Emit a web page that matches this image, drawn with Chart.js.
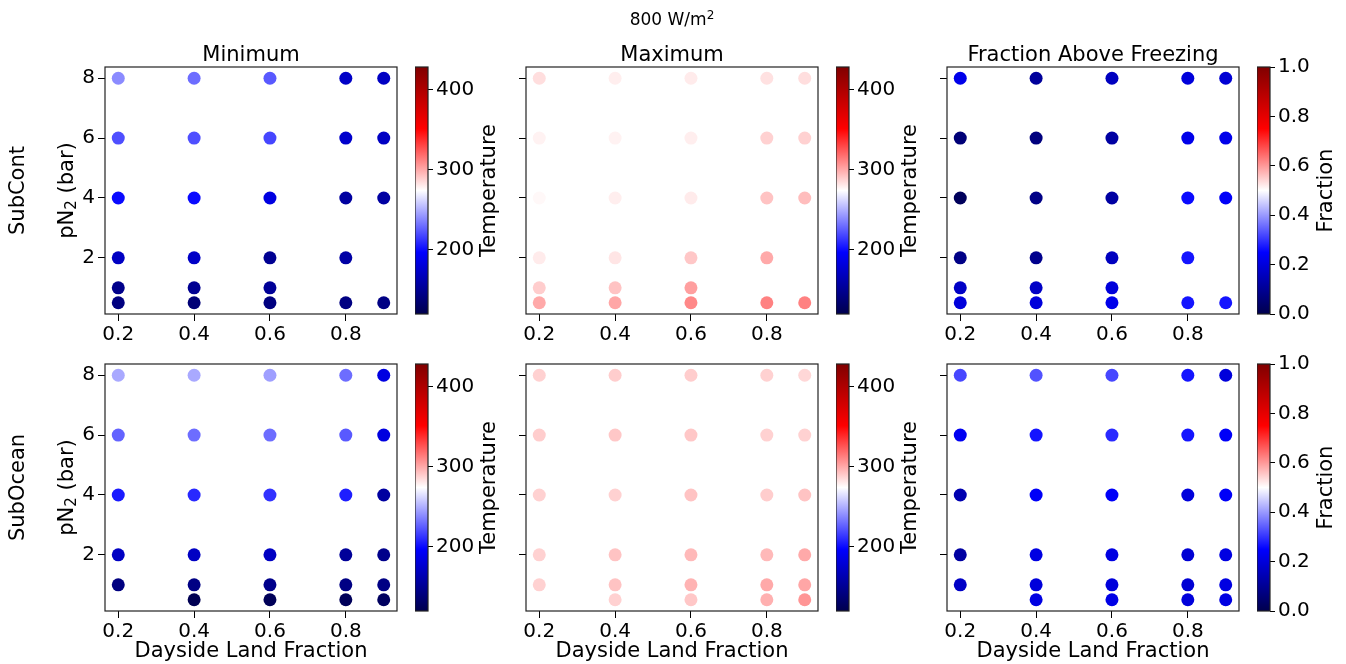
<!DOCTYPE html>
<html>
<head>
<meta charset="utf-8">
<script src="https://cdn.jsdelivr.net/npm/chart.js@4.4.1/dist/chart.umd.min.js"></script>
<style>
  html, body { margin: 0; padding: 0; background: #fff; }
  #fig { position: relative; width: 1346px; height: 664px; overflow: hidden; }
  #fig canvas { position: absolute; }
</style>
</head>
<body>
<div id="fig"></div>
<script>
const landFraction = [0.2, 0.4, 0.6, 0.8, 0.9];
const pN2 = [8, 6, 4, 2, 1, 0.5];
const xTicks = [0.2, 0.4, 0.6, 0.8];
const yTicks = [2, 4, 6, 8];
const tempTicks = [200, 300, 400];
const fracTicks = [0, 0.2, 0.4, 0.6, 0.8, 1.0];
const tempRange = [120, 428];
const fracRange = [0, 1];

// rows follow pN2, columns follow landFraction, null = no run
const subContMin = [
    [239, 230, 224, 173, 171],
    [221, 221, 218, 175, 171],
    [200, 200, 184, 156, 157],
    [171, 173, 150, 158, null],
    [147, 150, 152, null, null],
    [142, 138, 142, 143, 144]
];
const subContMax = [
    [284, 279, 280, 283, 284],
    [278, 278, 279, 288, 288],
    [276, 279, 280, 292, 294],
    [280, 282, 291, 300, null],
    [289, 292, 303, null, null],
    [300, 301, 310, 312, 312]
];
const subContFrac = [
    [0.22, 0.11, 0.16, 0.20, 0.19],
    [0.06, 0.07, 0.12, 0.22, 0.22],
    [0.02, 0.08, 0.12, 0.26, 0.24],
    [0.08, 0.09, 0.16, 0.27, null],
    [0.17, 0.17, 0.20, null, null],
    [0.20, 0.20, 0.22, 0.27, 0.27]
];
const subOceanMin = [
    [248, 248, 245, 230, 184],
    [227, 230, 230, 224, 183],
    [205, 209, 212, 206, 156],
    [171, 171, 171, 153, 147],
    [142, 144, 147, 144, 144],
    [null, 123, 125, 126, 128]
];
const subOceanMax = [
    [288, 289, 289, 288, 286],
    [289, 291, 291, 288, 288],
    [288, 288, 292, 289, 292],
    [288, 292, 295, 295, 300],
    [288, 292, 297, 300, 301],
    [null, 288, 291, 298, 306]
];
const subOceanFrac = [
    [0.32, 0.33, 0.32, 0.27, 0.20],
    [0.23, 0.27, 0.29, 0.27, 0.24],
    [0.14, 0.24, 0.24, 0.20, 0.24],
    [0.12, 0.21, 0.21, 0.19, 0.21],
    [0.17, 0.20, 0.20, 0.19, 0.21],
    [null, 0.21, 0.215, 0.20, 0.21]
];

const colTitles = ['Minimum', 'Maximum', 'Fraction Above Freezing'];
const rowNames = ['SubCont', 'SubOcean'];

// layout of the figure (px)
const colLeft = [105, 526, 947];
const rowTop = [67, 364];
const plotW = 292, plotH = 247;
const cbLeft = [415, 836, 1257];
const cbW = 13;

Chart.defaults.font.family = "'DejaVu Sans', sans-serif";
Chart.defaults.color = '#000';

// matplotlib 'seismic'
const seismicStops = [
    [0, 0, 0, 76.5],
    [0.25, 0, 0, 255],
    [0.5, 255, 255, 255],
    [0.75, 255, 0, 0],
    [1, 127.5, 0, 0]
];
function seismic(t) {
    t = Math.min(1, Math.max(0, t));
    for (let i = 1; i < seismicStops.length; i++) {
        const a = seismicStops[i - 1], b = seismicStops[i];
        if (t <= b[0]) {
            const f = (t - a[0]) / (b[0] - a[0]);
            const c = [1, 2, 3].map(k => Math.round(a[k] + (b[k] - a[k]) * f));
            return `rgb(${c[0]},${c[1]},${c[2]})`;
        }
    }
    return 'rgb(128,0,0)';
}

const fig = document.getElementById('fig');
function addCanvas(left, top, width, height) {
    const c = document.createElement('canvas');
    c.width = width; c.height = height;
    c.style.left = left + 'px'; c.style.top = top + 'px';
    c.style.width = width + 'px'; c.style.height = height + 'px';
    fig.appendChild(c);
    return c;
}

// draws text runs (for sub/superscripts) centred on 0,0
function drawRuns(ctx, runs, size) {
    const fonts = runs.map(r => `${Math.round(size * (r.scale || 1))}px 'DejaVu Sans'`);
    let total = 0;
    const widths = runs.map((r, i) => { ctx.font = fonts[i]; const w = ctx.measureText(r.text).width; total += w; return w; });
    let x = -total / 2;
    ctx.textAlign = 'left';
    runs.forEach((r, i) => {
        ctx.font = fonts[i];
        ctx.fillText(r.text, x, (r.dy || 0) * size);
        x += widths[i];
    });
}

// frame, colorbar gradient and free text
const figureText = {
    id: 'figureText',
    beforeDatasetsDraw(chart, args, opts) {
        if (!opts.gradient) return;
        const ctx = chart.ctx, a = chart.chartArea;
        const g = ctx.createLinearGradient(0, a.bottom, 0, a.top);
        seismicStops.forEach(s => g.addColorStop(s[0], `rgb(${s[1]},${s[2]},${s[3]})`));
        ctx.save();
        ctx.fillStyle = g;
        ctx.fillRect(a.left, a.top, a.right - a.left, a.bottom - a.top);
        ctx.restore();
    },
    afterDraw(chart, args, opts) {
        const ctx = chart.ctx, a = chart.chartArea;
        ctx.save();
        ctx.strokeStyle = '#222';
        ctx.lineWidth = 1.2;
        ctx.strokeRect(a.left, a.top, a.right - a.left, a.bottom - a.top);
        (opts.items || []).forEach(t => {
            const [x, y] = t.at(a);
            ctx.save();
            ctx.fillStyle = '#000';
            ctx.textBaseline = t.baseline || 'middle';
            ctx.translate(x, y);
            if (t.rotate) ctx.rotate(-Math.PI / 2);
            drawRuns(ctx, t.runs || [{ text: t.text }], t.size || 21);
            ctx.restore();
        });
        ctx.restore();
    }
};

function gridPoints(values) {
    const pts = [];
    values.forEach((row, i) => row.forEach((v, j) => {
        if (v !== null) pts.push({ x: landFraction[j], y: pN2[i], v: v });
    }));
    return pts;
}

function makePanel(row, col, values, range) {
    const padL = 100, padR = 8;
    const padT = row === 0 ? rowTop[0] : 40;
    const padB = row === 1 ? 664 - (rowTop[1] + plotH) : 45;
    const canvas = addCanvas(colLeft[col] - padL, rowTop[row] - padT,
        plotW + padL + padR, plotH + padT + padB);
    const pts = gridPoints(values);
    const colors = pts.map(p => seismic((p.v - range[0]) / (range[1] - range[0])));

    const items = [];
    if (row === 0) {
        items.push({ text: colTitles[col], at: a => [(a.left + a.right) / 2, a.top - 6], baseline: 'alphabetic' });
    }
    if (col === 0) {
        items.push({
            runs: [{ text: 'pN' }, { text: '2', scale: 0.7, dy: 0.2 }, { text: ' (bar)' }],
            rotate: true, at: a => [a.left - 37, (a.top + a.bottom) / 2]
        });
        items.push({ text: rowNames[row], rotate: true, at: a => [a.left - 86, (a.top + a.bottom) / 2] });
    }
    if (row === 0 && col === 1) {
        items.push({
            runs: [{ text: '800 W/m' }, { text: '2', scale: 0.7, dy: -0.38 }],
            size: 17, baseline: 'alphabetic', at: a => [(a.left + a.right) / 2, a.top - 42]
        });
    }

    const tickFont = { size: 20 };
    new Chart(canvas, {
        type: 'scatter',
        data: {
            datasets: [{
                data: pts,
                backgroundColor: colors,
                borderWidth: 0,
                pointRadius: 6.5,
                pointHoverRadius: 6.5
            }]
        },
        options: {
            responsive: false,
            animation: false,
            devicePixelRatio: 1,
            layout: { padding: { left: 0, top: padT, right: padR, bottom: 0 } },
            plugins: {
                legend: { display: false },
                tooltip: { enabled: false },
                figureText: { items: items }
            },
            scales: {
                x: {
                    type: 'linear',
                    min: 0.165,
                    max: 0.935,
                    afterBuildTicks: s => { s.ticks = xTicks.map(v => ({ value: v })); },
                    afterFit: s => { s.height = padB; },
                    ticks: {
                        font: tickFont, color: '#000', padding: 2, maxRotation: 0, autoSkip: false,
                        callback: v => v.toFixed(1)
                    },
                    grid: { drawOnChartArea: false, tickLength: 7, tickColor: '#000' },
                    border: { display: false },
                    title: {
                        display: row === 1,
                        text: 'Dayside Land Fraction',
                        font: { size: 21 },
                        color: '#000',
                        padding: { top: 0, bottom: 0 }
                    }
                },
                y: {
                    type: 'linear',
                    min: 0.125,
                    max: 8.375,
                    afterBuildTicks: s => { s.ticks = yTicks.map(v => ({ value: v })); },
                    afterFit: s => { s.width = padL; },
                    ticks: {
                        font: tickFont, color: '#000', padding: 3, autoSkip: false,
                        callback: v => col === 0 ? String(v) : ''
                    },
                    grid: { drawOnChartArea: false, tickLength: 7, tickColor: '#000' },
                    border: { display: false }
                }
            }
        },
        plugins: [figureText]
    });
}

function makeColorbar(row, col, range, ticks, label, labelOffset, fmt) {
    const padV = 20, axisW = 90;
    const canvas = addCanvas(cbLeft[col], rowTop[row] - padV, cbW + axisW, plotH + 2 * padV);
    new Chart(canvas, {
        type: 'scatter',
        data: { datasets: [{ data: [] }] },
        options: {
            responsive: false,
            animation: false,
            devicePixelRatio: 1,
            layout: { padding: { left: 0, top: padV, right: 0, bottom: padV } },
            plugins: {
                legend: { display: false },
                tooltip: { enabled: false },
                figureText: {
                    gradient: true,
                    items: [{ text: label, rotate: true, at: a => [a.right + labelOffset, (a.top + a.bottom) / 2] }]
                }
            },
            scales: {
                x: { display: false, min: 0, max: 1 },
                y: {
                    position: 'right',
                    min: range[0],
                    max: range[1],
                    afterBuildTicks: s => { s.ticks = ticks.map(v => ({ value: v })); },
                    afterFit: s => { s.width = axisW; },
                    ticks: { font: { size: 20 }, color: '#000', padding: 3, autoSkip: false, callback: fmt },
                    grid: { drawOnChartArea: false, tickLength: 5, tickColor: '#000' },
                    border: { display: false }
                }
            }
        },
        plugins: [figureText]
    });
}

const panelData = [
    [subContMin, subContMax, subContFrac],
    [subOceanMin, subOceanMax, subOceanFrac]
];
[0, 1].forEach(row => {
    makePanel(row, 0, panelData[row][0], tempRange);
    makePanel(row, 1, panelData[row][1], tempRange);
    makePanel(row, 2, panelData[row][2], fracRange);
    makeColorbar(row, 0, tempRange, tempTicks, 'Temperature', 62, v => String(v));
    makeColorbar(row, 1, tempRange, tempTicks, 'Temperature', 62, v => String(v));
    makeColorbar(row, 2, fracRange, fracTicks, 'Fraction', 57, v => v.toFixed(1));
});
</script>
</body>
</html>
